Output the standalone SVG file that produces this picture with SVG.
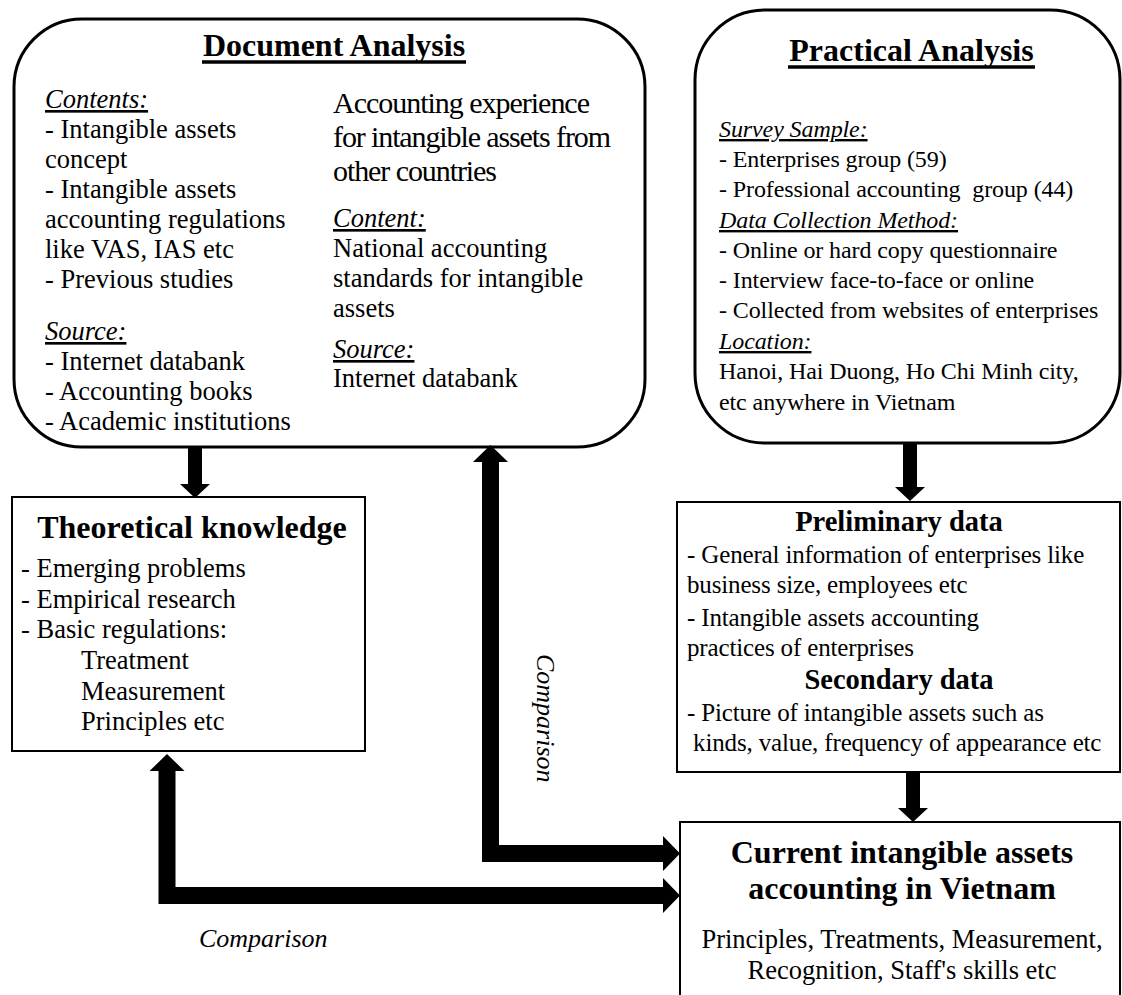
<svg xmlns="http://www.w3.org/2000/svg" width="1122" height="995" viewBox="0 0 1122 995">
  <defs>
    <style>
      text { font-family: "Liberation Serif", "Times New Roman", serif; fill: #000; }
      .title { font-size: 32px; font-weight: bold; text-anchor: middle; }
      .head { font-size: 28.5px; font-weight: bold; text-anchor: middle; }
      .body { font-size: 26.5px; }
      .cond { font-size: 30px; }
      .prac { font-size: 24px; letter-spacing: -0.1px; }
      .data { font-size: 25px; letter-spacing: -0.15px; }
      .lbl { font-style: italic; text-decoration: underline; }
      .note { font-size: 26px; font-style: italic; }
      .mid { text-anchor: middle; }
      .round { fill: #fff; stroke: #000; stroke-width: 3; }
      .box { fill: #fff; stroke: #000; stroke-width: 2; }
      .uline { stroke: #000; stroke-width: 3.5; }
      .thin { fill: none; stroke: #000; stroke-width: 14; }
      .thick { fill: none; stroke: #000; stroke-width: 17; stroke-linejoin: miter; }
    </style>
    <marker id="headSmall" markerUnits="userSpaceOnUse" viewBox="0 0 14 30" markerWidth="14" markerHeight="30" refX="0" refY="15" orient="auto">
      <path d="M0,0 L14,15 L0,30 Z" fill="#000"/>
    </marker>
    <marker id="headBig" markerUnits="userSpaceOnUse" viewBox="0 0 17 35" markerWidth="17" markerHeight="35" refX="0" refY="17.5" orient="auto-start-reverse">
      <path d="M0,0 L17,17.5 L0,35 Z" fill="#000"/>
    </marker>
  </defs>

  <rect width="1122" height="995" fill="#fff"/>

  <!-- Document analysis -->
  <g id="document-analysis">
    <rect class="round" x="14" y="19" width="631" height="428" rx="68" ry="68"/>
    <text class="title" x="334" y="56">Document Analysis</text>
    <line class="uline" x1="202" y1="62" x2="466" y2="62"/>
    <text class="body lbl" x="45" y="108">Contents:</text>
    <text class="body" x="45" y="138">- Intangible assets</text>
    <text class="body" x="45" y="168">concept</text>
    <text class="body" x="45" y="198">- Intangible assets</text>
    <text class="body" x="45" y="228">accounting regulations</text>
    <text class="body" x="45" y="258">like VAS, IAS etc</text>
    <text class="body" x="45" y="288">- Previous studies</text>
    <text class="body lbl" x="45" y="340">Source:</text>
    <text class="body" x="45" y="370">- Internet databank</text>
    <text class="body" x="45" y="400">- Accounting books</text>
    <text class="body" x="45" y="430">- Academic institutions</text>
    <text class="cond" x="333" y="113" textLength="257">Accounting experience</text>
    <text class="cond" x="333" y="147" textLength="278">for intangible assets from</text>
    <text class="cond" x="333" y="181" textLength="164">other countries</text>
    <text class="body lbl" x="333" y="227">Content:</text>
    <text class="body" x="333" y="257">National accounting</text>
    <text class="body" x="333" y="287">standards for intangible</text>
    <text class="body" x="333" y="317">assets</text>
    <text class="body lbl" x="333" y="358">Source:</text>
    <text class="body" x="333" y="387">Internet databank</text>
  </g>

  <!-- Practical analysis -->
  <g id="practical-analysis">
    <rect class="round" x="695" y="10" width="425" height="433" rx="70" ry="70"/>
    <text class="title" x="911.5" y="61">Practical Analysis</text>
    <line class="uline" x1="788" y1="67" x2="1035" y2="67"/>
    <text class="prac lbl" x="719" y="137">Survey Sample:</text>
    <text class="prac" x="719" y="167">- Enterprises group (59)</text>
    <text class="prac" x="719" y="197" xml:space="preserve">- Professional accounting  group (44)</text>
    <text class="prac lbl" x="719" y="228">Data Collection Method:</text>
    <text class="prac" x="719" y="258">- Online or hard copy questionnaire</text>
    <text class="prac" x="719" y="288">- Interview face-to-face or online</text>
    <text class="prac" x="719" y="318">- Collected from websites of enterprises</text>
    <text class="prac lbl" x="719" y="349">Location:</text>
    <text class="prac" x="719" y="379">Hanoi, Hai Duong, Ho Chi Minh city,</text>
    <text class="prac" x="719" y="410">etc anywhere in Vietnam</text>
  </g>

  <!-- Theoretical knowledge -->
  <g id="theoretical-knowledge">
    <rect class="box" x="12" y="497" width="353" height="254"/>
    <text class="title" x="192" y="538">Theoretical knowledge</text>
    <text class="body" x="21" y="577">- Emerging problems</text>
    <text class="body" x="21" y="608">- Empirical research</text>
    <text class="body" x="21" y="638">- Basic regulations:</text>
    <text class="body" x="81" y="669">Treatment</text>
    <text class="body" x="81" y="700">Measurement</text>
    <text class="body" x="81" y="730">Principles etc</text>
  </g>

  <!-- Preliminary and secondary data -->
  <g id="survey-data">
    <rect class="box" x="677" y="502" width="443" height="270"/>
    <text class="head" x="899" y="531">Preliminary data</text>
    <text class="data" x="687" y="563">- General information of enterprises like</text>
    <text class="data" x="687" y="593">business size, employees etc</text>
    <text class="data" x="687" y="626">- Intangible assets accounting</text>
    <text class="data" x="687" y="656">practices of enterprises</text>
    <text class="head" x="899" y="689">Secondary data</text>
    <text class="data" x="687" y="721">- Picture of intangible assets such as</text>
    <text class="data" x="687" y="751" xml:space="preserve"> kinds, value, frequency of appearance etc</text>
  </g>

  <!-- Current accounting in Vietnam -->
  <g id="current-accounting">
    <rect class="box" x="680" y="822" width="440" height="200"/>
    <text class="title" x="902" y="863">Current intangible assets</text>
    <text class="title" x="902" y="899">accounting in Vietnam</text>
    <text class="body mid" x="902" y="948">Principles, Treatments, Measurement,</text>
    <text class="body mid" x="902" y="979">Recognition, Staff's skills etc</text>
  </g>

  <!-- Connectors -->
  <g id="connectors">
    <path class="thin" d="M195,447 V484" marker-end="url(#headSmall)"/>
    <path class="thin" d="M910,443 V487" marker-end="url(#headSmall)"/>
    <path class="thin" d="M913,772 V808" marker-end="url(#headSmall)"/>
    <path class="thick" d="M490.5,462 V853.5 H663" marker-start="url(#headBig)" marker-end="url(#headBig)"/>
    <path class="thick" d="M167,771 V895.5 H663" marker-start="url(#headBig)" marker-end="url(#headBig)"/>
    <text class="note" transform="translate(537,654) rotate(90)">Comparison</text>
    <text class="note" x="199" y="947">Comparison</text>
  </g>
</svg>
